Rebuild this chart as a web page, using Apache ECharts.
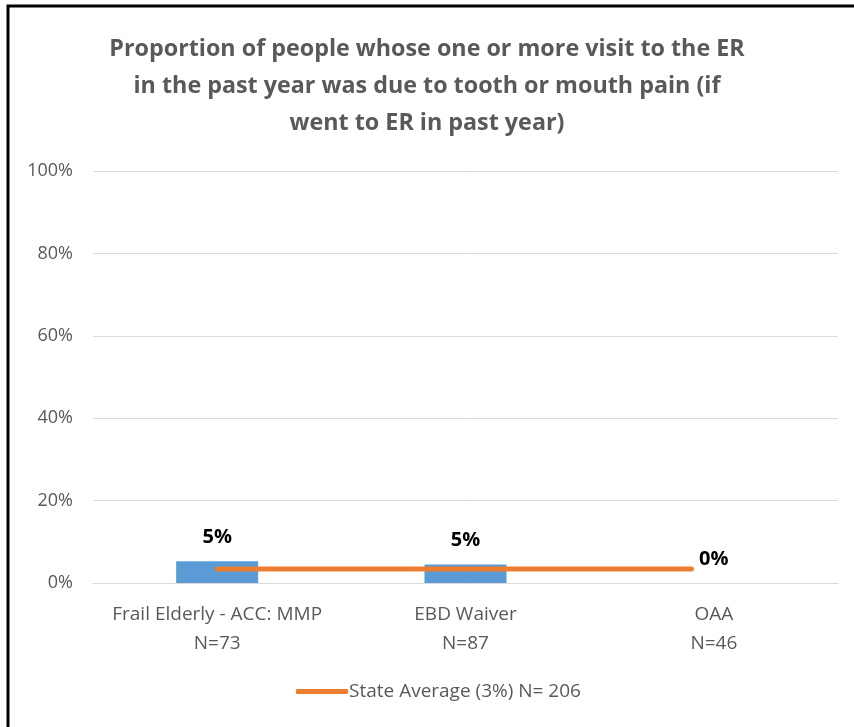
<!DOCTYPE html>
<html>
<head>
<meta charset="utf-8">
<script src="https://cdn.jsdelivr.net/npm/echarts@6/dist/echarts.min.js"></script>
<style>
html,body{margin:0;padding:0;background:#fff;}
#chart{width:854px;height:727px;}
</style>
</head>
<body>
<div id="chart"></div>
<script>
const titleText = 'Proportion of people whose one or more visit to the ER\nin the past year was due to tooth or mouth pain (if\nwent to ER in past year)';
const categories = ['Frail Elderly - ACC: MMP\nN=73', 'EBD Waiver\nN=87', 'OAA\nN=46'];
const barValues = [5.3, 4.5, 0];
const stateAvgName = 'State Average (3%) N= 206';
const stateAvgX = [0, 1.91];
const stateAvgValue = [3.4, 3.4];
const yTicks = [0, 20, 40, 60, 80, 100];

const FONT = 'Open Sans';
const chart = echarts.init(document.getElementById('chart'), null, {renderer: 'canvas'});
chart.setOption({
  animation: false,
  backgroundColor: '#fff',
  graphic: [{
    type: 'rect', shape: {x: 8, y: 6, width: 1000, height: 1000},
    style: {fill: 'none', stroke: '#000', lineWidth: 3}, silent: true, z: 100
  }],
  title: {
    text: titleText, left: 'center', top: 26,
    textStyle: {fontFamily: FONT, fontWeight: 'bold', fontSize: 23.3, color: '#595959', lineHeight: 37}
  },
  legend: {
    data: [stateAvgName], bottom: 21, left: 291,
    icon: 'roundRect', itemWidth: 52, itemHeight: 5, itemGap: 0,
    textStyle: {fontFamily: FONT, fontSize: 19, color: '#595959', padding: [0, 0, 0, -4]}
  },
  grid: {left: 93, right: 16, top: 171, bottom: 144},
  xAxis: [{
    type: 'category', data: categories,
    axisLine: {show: true, lineStyle: {color: '#d9d9d9', width: 1}},
    axisTick: {show: false},
    axisLabel: {interval: 0, fontFamily: FONT, fontSize: 19, color: '#595959', lineHeight: 29, margin: 17}
  }, {
    type: 'value', min: -0.5, max: 2.5, show: false
  }],
  yAxis: {
    type: 'value', min: 0, max: 100, interval: 20,
    axisLine: {show: false}, axisTick: {show: false},
    splitLine: {lineStyle: {color: '#d9d9d9', width: 1}},
    axisLabel: {fontFamily: FONT, fontSize: 18, color: '#595959', margin: 20,
      formatter: v => yTicks.includes(v) ? v + '%' : ''}
  },
  series: [{
    type: 'bar', xAxisIndex: 0, data: barValues,
    barWidth: 82, itemStyle: {color: '#5B9BD5'},
    label: {show: true, position: 'top', distance: 14, fontFamily: FONT, fontWeight: 'bold', fontSize: 20, color: '#000',
      formatter: p => Math.round(p.value) + '%'}
  }, {
    type: 'line', name: stateAvgName, xAxisIndex: 1,
    data: stateAvgX.map((x, i) => [x, stateAvgValue[i]]),
    symbol: 'none', lineStyle: {color: '#ED7D31', width: 5, cap: 'round'}, itemStyle: {color: '#ED7D31'}, z: 5
  }]
});
</script>
</body>
</html>
